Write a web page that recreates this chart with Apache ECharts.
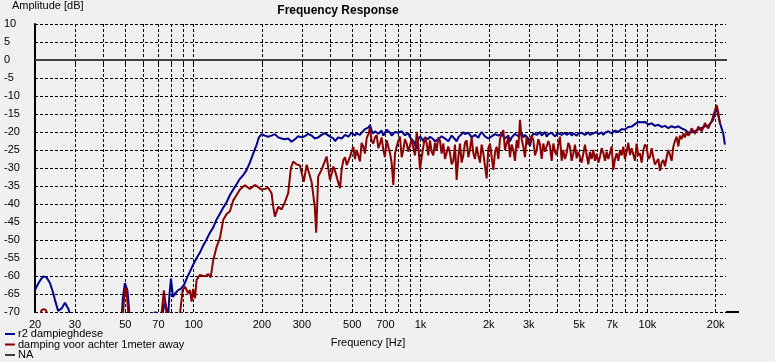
<!DOCTYPE html>
<html>
<head>
<meta charset="utf-8">
<script src="https://cdn.jsdelivr.net/npm/echarts@6/dist/echarts.min.js"></script>
<style>
html,body{margin:0;padding:0;background:#f0f0f0;}
#chart{width:775px;height:362px;}
</style>
</head>
<body>
<div id="chart"></div>
<script>
// ---- Axis ticks ----
var xGridFreqs = [20,30,40,50,60,70,80,90,100,200,300,400,500,600,700,800,900,1000,2000,3000,4000,5000,6000,7000,8000,9000,10000,20000];
var xLabelFreqs = [20,30,50,70,100,200,300,500,700,1000,2000,3000,5000,7000,10000,20000];
var xTickLabels = ['20','30','50','70','100','200','300','500','700','1k','2k','3k','5k','7k','10k','20k'];

// ---- Series names ----
var seriesNames = ['r2 dampieghdese', 'damping voor achter 1meter away', 'NA'];

// ---- Low-frequency part (Hz, dB) ----
var blueLow = [[20,-63.9],[20.7,-62],[21.3,-60.8],[21.8,-60.1],[22.5,-60.4],[23.3,-62],[24.0,-64.5],[24.5,-66.7],[25.3,-69.7],[25.8,-70],[26.2,-69],[27.1,-67.4],[28.0,-69],[28.5,-70.5],[29.5,-76],[40,-85],
  [47.5,-78],[48.8,-66],[49.8,-62],[50.3,-61.8],[51.1,-64],[51.9,-69],[52.6,-76],[60,-85],
  [66.2,-72],[67.6,-70],[69.6,-70.5],[71.8,-74],[73.7,-69],[74.8,-67],[75.9,-69],[77.1,-72],[78.3,-65],[79.5,-60.7],[81.1,-65.8],[82.7,-65],[85.3,-64],[88.0,-63.5],[90.7,-62.5],[93.5,-60.5],[96.4,-58.8],[99.3,-57],
  [103.1,-55],[106.6,-53.5],[110.3,-51.5],[114.1,-49.8],[118.0,-48],[122.1,-46.5],[126.3,-44.3],[130.6,-42.7],[135.1,-41],[139.8,-39.5],[144.6,-37.5],[149.5,-36],[154.7,-34.5],[160.0,-33],[165.4,-32],[171.1,-30.6],[177.0,-28.5],[183.1,-26],[189.6,-23.5],[194.0,-21.5],[199.4,-20.6],
  [206.2,-21],[213.2,-21.3],[220.6,-21],[228.2,-20.6],[236.0,-21.5],[244.2,-21.8],[252.6,-22],[261.2,-21.8],[270.2,-22.7],[279.6,-22],[289.0,-21.2],[299.2,-21.5],[309.5,-21.2],[320.0,-20.5],[331.0,-21],[342.3,-21.8],[354.2,-21.5],[366.4,-20.8],[379.0,-20.3],[385.6,-20.2]];

var redLow = [[20.8,-78],[21.3,-69.6],[21.8,-69.2],[22.3,-69.4],[22.8,-71],[24,-80],[40,-85],
  [48.2,-78],[48.9,-70],[49.7,-64],[50.2,-63.3],[50.9,-66],[51.6,-70.5],[52.4,-78],[65,-85],
  [71.8,-72],[72.9,-68],[74.0,-64],[74.8,-64.5],[75.9,-70],[76.7,-76],[82,-82],
  [87.1,-70.5],[89.5,-63.9],[91.6,-63],[94.7,-64.8],[96.4,-63.9],[98.0,-67.1],[99.6,-63.6],[101.4,-66.2],[103.1,-61.1],[106.6,-59.7],[112.2,-60.1],[116.0,-59.5],[118.9,-60.4],
  [122.1,-55.6],[126.3,-51.9],[130.6,-49.5],[135.1,-44.4],[139.8,-42.8],[144.6,-42],[149.5,-39],[154.7,-37.5],[160,-36],[168.3,-34.8],[177.0,-35.8],[186.3,-34.7],[199.4,-36],
  [206.2,-35.8],[213.2,-35.5],[220.6,-37],[224.7,-41],[228.2,-43.5],[236.0,-40.8],[244.2,-41.5],[252.6,-39.5],[261.2,-37],[268.4,-30],[274.8,-28.2],[284.4,-29],[294.0,-29.3],
  [306,-33.8],[315,-29.1],[331,-33.8],[342,-40.8],[347,-48],[354,-32.4],[366,-30.6],[385.6,-26.8]];

// ---- High-frequency part: shared frequency grid (Hz) ----
var freqHi = [
  399,413,427,442,457,473,489,506,523,541,
  560,579,599,619,641,663,686,709,734,759,
  785,812,840,869,899,930,962,995,1029,1064,
  1101,1139,1178,1219,1260,1304,1349,1395,1443,1493,
  1544,1597,1652,1709,1768,1829,1892,1957,2024,2094,
  2166,2240,2317,2397,2479,2565,2653,2744,2839,2936,
  3037,3142,3250,3362,3477,3597,3721,3849,3981,4118,
  4259,4406,4558,4714,4877,5044,5218,5397,5583,5775,
  5974,6179,6392,6612,6839,7074,7318,7570,7830,8099,
  8378,8666,8964,9273,9592,9921,10263,10616,10981,11359,
  11749,12154,12572,13004,13452,13914,14393,14888,15400,15930,
  16478,17045,17631,18237,18865,19514,20185,20879,21598,21950];

// in-between frequencies of the grid above (Hz)
var freqMid = [
  406,420,434,449,465,481,497,514,532,550,
  569,589,609,630,652,674,697,721,746,772,
  798,826,854,884,914,946,978,1012,1046,1082,
  1120,1158,1198,1239,1282,1326,1372,1419,1468,1518,
  1570,1624,1680,1738,1798,1860,1924,1990,2059,2130,
  2203,2278,2357,2438,2522,2609,2698,2791,2887,2986,
  3089,3195,3306,3419,3537,3659,3785,3914,4049,4188,
  4332,4481,4636,4795,4960,5130,5307,5490,5678,5874,
  6076,6285,6501,6725,6956,7195,7443,7699,7964,8238,
  8521,8815,9118,9431,9756,10091,10438,10797,11169,11553,
  11951,12362,12786,13226,13682,14152,14639,15142,15663,16202,
  16759,17337,17932,18549,19189,19849,20530,21237,21773];

var blueHi = [
  -21.3,-21.8,-22.2,-21.8,-21.3,-21.0,-20.8,-20.6,-20.4,-20.8,
  -19.9,-19.5,-18.1,-20.4,-19.6,-20.0,-21.0,-19.4,-20.2,-20.8,
  -19.5,-20.6,-20.0,-20.8,-21.5,-22.5,-24.8,-21.2,-22.6,-21.0,
  -21.3,-22.0,-23.0,-21.8,-20.8,-21.5,-22.2,-21.4,-22.6,-21.2,
  -20.0,-21.0,-20.8,-21.8,-21.2,-20.6,-20.4,-21.5,-22.2,-21.0,
  -20.4,-21.5,-20.8,-21.6,-22.6,-21.0,-20.4,-20.8,-21.5,-20.4,
  -24.0,-20.4,-20.8,-20.0,-20.6,-21.3,-20.8,-20.4,-20.9,-20.0,
  -20.6,-20.8,-20.2,-20.4,-21.0,-20.8,-20.2,-20.4,-20.8,-20.4,
  -20.0,-20.4,-20.8,-20.4,-20.0,-20.0,-19.8,-19.5,-19.6,-19.1,
  -18.8,-18.2,-17.5,-17.0,-17.5,-17.6,-17.8,-18.0,-18.2,-18.3,
  -18.4,-18.6,-18.8,-18.5,-18.6,-18.9,-19.1,-19.8,-20.4,-20.0,
  -19.6,-19.1,-18.7,-18.2,-18.0,-16.5,-13.5,-17.5,-20.5,-23.5];

var blueMid = [
  -21.0,-22.5,-21.5,-21.8,-20.8,-21.3,-20.2,-21.0,-20.0,-20.2,
  -19.2,-18.8,-19.6,-19.8,-20.5,-19.6,-20.2,-19.8,-21.0,-20.0,
  -20.2,-19.8,-20.9,-20.3,-22.0,-23.5,-22.0,-21.8,-21.5,-22.0,
  -21.8,-22.6,-22.0,-21.2,-21.8,-22.6,-21.0,-22.0,-21.5,-20.6,
  -20.6,-20.2,-21.5,-20.8,-21.6,-20.0,-21.2,-21.8,-21.2,-20.6,
  -21.0,-20.5,-21.8,-21.0,-21.5,-20.5,-21.2,-20.2,-20.8,-21.8,
  -21.5,-20.2,-20.4,-21.0,-20.0,-20.6,-20.2,-21.2,-20.3,-20.8,
  -20.2,-20.5,-21.0,-20.0,-20.4,-20.2,-20.8,-20.1,-20.6,-20.0,
  -20.6,-20.1,-20.2,-19.8,-20.4,-19.6,-20.0,-19.2,-19.3,-18.6,
  -18.5,-17.8,-17.2,-17.3,-17.2,-17.9,-17.6,-18.3,-18.0,-18.6,
  -18.3,-18.9,-18.4,-18.8,-18.4,-19.0,-19.4,-20.2,-20.1,-19.8,
  -19.3,-18.9,-18.4,-18.3,-17.2,-14.5,-15.5,-19.0,-22.0];

var redHi = [
  -33.3,-29.6,-32.4,-35.6,-27.8,-29.2,-26.9,-24.1,-25.0,-28.2,
  -24.1,-21.8,-19.0,-23.2,-20.9,-23.2,-25.0,-22.3,-25.9,-34.7,
  -24.1,-21.3,-25.0,-23.2,-26.0,-24.5,-20.0,-30.5,-24.1,-23.0,
  -22.3,-26.5,-25.0,-22.5,-23.2,-27.0,-25.9,-28.0,-33.3,-23.2,
  -26.5,-22.3,-24.8,-25.9,-24.1,-28.5,-25.9,-32.9,-23.2,-30.5,
  -24.1,-22.0,-19.5,-23.2,-27.0,-25.0,-22.3,-16.6,-24.1,-21.3,
  -23.2,-22.2,-25.0,-23.5,-23.2,-25.9,-24.0,-23.2,-26.4,-21.3,
  -25.0,-25.9,-24.1,-26.0,-27.3,-25.0,-26.0,-26.4,-25.5,-25.0,
  -26.0,-26.9,-25.8,-25.5,-27.0,-30.5,-25.9,-25.0,-24.1,-25.5,
  -26.4,-25.0,-23.2,-25.9,-25.2,-24.1,-26.9,-27.0,-29.5,-30.8,
  -27.8,-27.0,-26.4,-24.1,-21.3,-21.0,-20.4,-20.0,-20.3,-19.5,
  -19.8,-19.1,-18.8,-18.4,-17.8,-15.5,-12.5,-17.8];

var redMid = [
  -31.5,-30.8,-34.0,-30.5,-27.0,-28.0,-25.5,-27.5,-26.5,-23.0,
  -26.0,-20.5,-22.5,-21.5,-24.5,-21.5,-27.0,-24.0,-28.5,-26.0,
  -22.5,-27.0,-22.0,-25.5,-22.0,-26.5,-23.5,-27.0,-21.5,-26.5,
  -25.5,-23.0,-21.5,-26.0,-27.5,-24.0,-29.0,-23.5,-27.0,-28.5,
  -23.0,-27.0,-21.5,-27.5,-26.5,-23.5,-29.5,-24.5,-27.0,-25.5,
  -27.5,-20.5,-25.0,-21.5,-23.5,-28.0,-24.5,-22.0,-27.0,-23.5,
  -21.0,-26.5,-22.0,-27.5,-25.5,-22.5,-28.0,-25.5,-23.5,-28.0,
  -27.5,-23.0,-28.0,-23.5,-25.5,-28.5,-23.5,-29.0,-27.5,-28.0,
  -28.5,-24.5,-28.0,-27.5,-24.0,-27.5,-28.0,-26.5,-27.5,-23.0,
  -24.5,-28.0,-26.5,-28.5,-23.5,-27.5,-24.5,-29.0,-27.5,-28.5,
  -29.5,-25.0,-28.0,-22.5,-24.0,-22.0,-21.5,-21.0,-19.0,-20.5,
  -18.5,-19.8,-17.5,-19.0,-17.0,-14.0,-14.5];

function weave(low, hi, mid) {
  var out = low.slice();
  for (var i = 0; i < hi.length; i++) {
    out.push([freqHi[i], hi[i]]);
    if (i < mid.length && i < hi.length - 1) out.push([freqMid[i], mid[i]]);
  }
  return out;
}
var blueData = weave(blueLow, blueHi, blueMid);
var redData = weave(redLow, redHi, redMid);

var FONT = 'Liberation Sans';
function legendItem(name, top) {
  return {
    orient: 'vertical', left: 5, top: top, padding: 0, itemGap: 0,
    itemWidth: 10, itemHeight: 2, icon: 'rect', selectedMode: false,
    data: [name],
    textStyle: {fontFamily: FONT, fontSize: 11, color: '#000', padding: [0, 0, 0, -2]}
  };
}
var chart = echarts.init(document.getElementById('chart'), null, {renderer: 'canvas'});
chart.setOption({
  animation: false,
  backgroundColor: '#f0f0f0',
  textStyle: {fontFamily: FONT, color: '#000'},
  title: [
    {text: 'Frequency Response', left: 338, top: 5, padding: 0, textAlign: 'center',
     textStyle: {fontFamily: FONT, fontSize: 12, fontWeight: 'bold', color: '#000'}},
    {text: 'Amplitude [dB]', left: 12, top: 0, padding: 0,
     textStyle: {fontFamily: FONT, fontSize: 11, fontWeight: 'normal', color: '#000'}},
    {text: 'Frequency [Hz]', left: 368, top: 337, padding: 0, textAlign: 'center',
     textStyle: {fontFamily: FONT, fontSize: 11, fontWeight: 'normal', color: '#000'}}
  ],
  legend: [
    legendItem(seriesNames[0], 328.5),
    legendItem(seriesNames[1], 339),
    legendItem(seriesNames[2], 349.5)
  ],
  grid: {left: 35, top: 24, right: 49, bottom: 50},
  xAxis: {
    type: 'log', logBase: 10, min: 20, max: 22200,
    axisLine: {show: true, lineStyle: {color: '#000', width: 2}},
    axisTick: {show: true, customValues: xGridFreqs, length: 6, lineStyle: {color: '#000', width: 1}},
    axisLabel: {customValues: xLabelFreqs, margin: 7, fontFamily: FONT, fontSize: 11, color: '#000',
      formatter: function (v) {
        for (var i = 0; i < xLabelFreqs.length; i++) {
          if (Math.abs(xLabelFreqs[i] - v) / v < 1e-6) return xTickLabels[i];
        }
        return '';
      }},
    splitLine: {show: true, lineStyle: {color: '#000', width: 1, type: [3, 2]}},
    minorTick: {show: false}
  },
  yAxis: {
    type: 'value', min: -70, max: 10, interval: 5,
    axisLine: {show: true, lineStyle: {color: '#000', width: 2}},
    axisTick: {show: false},
    axisLabel: {align: 'left', margin: 31, fontFamily: FONT, fontSize: 11, color: '#000'},
    splitLine: {show: true, lineStyle: {color: '#000', width: 1, type: [3, 2]}}
  },
  graphic: [
    {type: 'line', shape: {x1: 726, y1: 312, x2: 739, y2: 312}, style: {stroke: '#000', lineWidth: 2}, z: 100}
  ],
  series: [
    {
      name: seriesNames[0], type: 'line', data: blueData, showSymbol: false, clip: true,
      color: '#00008b',
      lineStyle: {color: '#00008b', width: 2},
      markLine: {
        silent: true, symbol: ['none', 'none'], label: {show: false},
        lineStyle: {color: '#404040', width: 2, type: 'solid'},
        data: [{yAxis: 0}]
      }
    },
    {
      name: seriesNames[1], type: 'line', data: redData, showSymbol: false, clip: true,
      color: '#8b0000',
      lineStyle: {color: '#8b0000', width: 2}
    },
    {
      name: seriesNames[2], type: 'line', data: [], showSymbol: false,
      color: '#404040',
      lineStyle: {color: '#404040', width: 2}
    }
  ]
});
</script>
</body>
</html>
